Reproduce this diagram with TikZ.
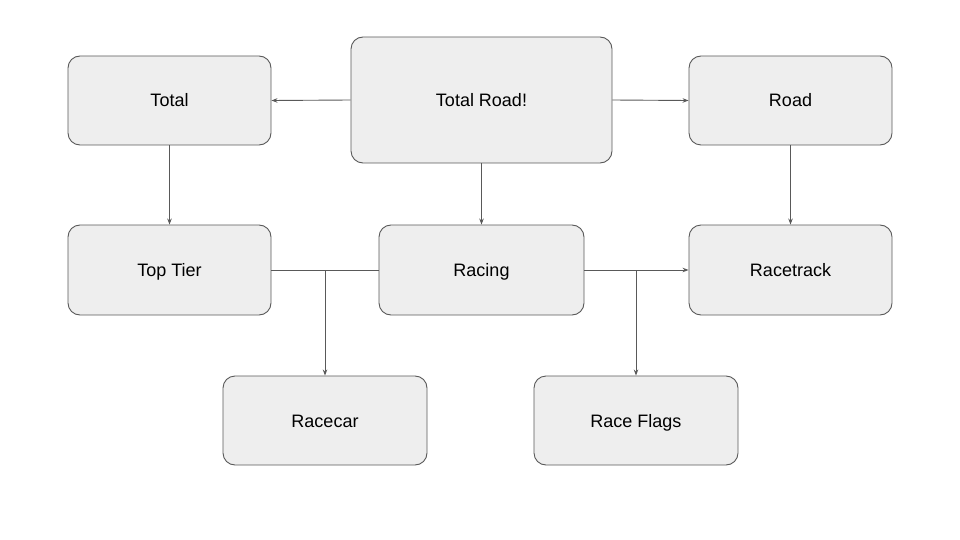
\documentclass[tikz,border=0pt]{standalone}
\usepackage{fontspec}
\setmainfont{Liberation Sans}
\usetikzlibrary{arrows.meta}
\definecolor{boxfill}{HTML}{EEEEEE}
\definecolor{boxline}{HTML}{595959}
\begin{document}
\begin{tikzpicture}[x=1pt,y=-1pt,
  box/.style={draw=boxline,fill=boxfill,line width=0.9pt,rounded corners=12pt,
    minimum width=#1,inner sep=0pt,text height=13pt,text depth=0pt,
    font=\fontsize{18}{22}\selectfont},
  conn/.style={draw=boxline,line width=0.9pt},
  arr/.style={conn,-{Stealth[length=6pt,width=4.5pt]}}]
\useasboundingbox (0,0) rectangle (960,540);
\node[box=261pt,minimum height=126pt] (tr) at (481.5,100) {Total Road!};
\node[box=203pt,minimum height=89pt] (total) at (169.5,100.5) {Total};
\node[box=203pt,minimum height=89pt] (road) at (790.5,100.5) {Road};
\node[box=203pt,minimum height=90pt] (tier) at (169.5,270) {Top Tier};
\node[box=205pt,minimum height=90pt] (racing) at (481.5,270) {Racing};
\node[box=203pt,minimum height=90pt] (track) at (790.5,270) {Racetrack};
\node[box=204pt,minimum height=89pt] (car) at (325,420.5) {Racecar};
\node[box=204pt,minimum height=89pt] (flags) at (636,420.5) {Race Flags};
\draw[arr] (tr.west) -- (total.east);
\draw[arr] (tr.east) -- (road.west);
\draw[arr] (total.south) -- (tier.north);
\draw[arr] (road.south) -- (track.north);
\draw[arr] (tr.south) -- (racing.north);
\draw[conn] (tier.east) -- (racing.west);
\coordinate (j1) at (car.north |- tier.east);
\draw[arr] (j1) -- (car.north);
\draw[arr] (racing.east) -- (track.west);
\coordinate (j2) at (flags.north |- racing.east);
\draw[arr] (j2) -- (flags.north);
\end{tikzpicture}
\end{document}
